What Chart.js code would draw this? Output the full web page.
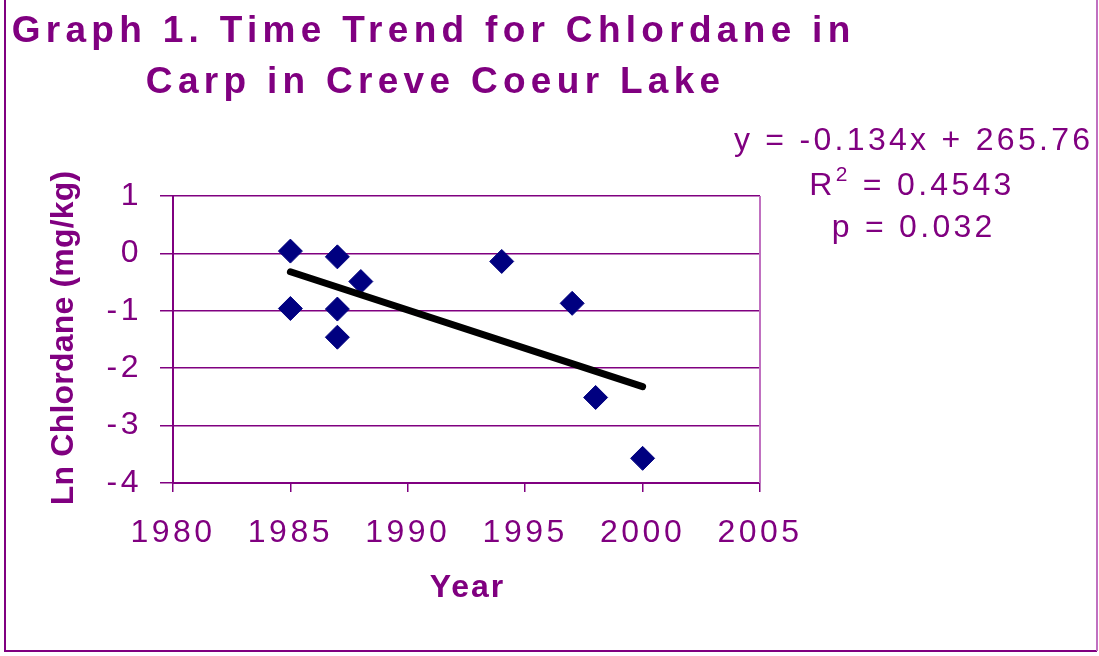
<!DOCTYPE html>
<html lang="en">
<head>
    <meta charset="UTF-8">
    <title>Graph 1. Time Trend for Chlordane in Carp in Creve Coeur Lake</title>
    <style>
        html, body {
            margin: 0;
            padding: 0;
            background: #fff;
        }
        #wrap {
            width: 1099px;
            height: 656px;
            position: relative;
        }
    </style>
    <script src="https://cdn.jsdelivr.net/npm/chart.js"></script>
</head>
<body>

<div id="wrap">
    <canvas id="chart" width="1099" height="656"></canvas>
</div>

<script>
// Data
const years = [1985, 1985, 1987, 1987, 1987, 1988, 1994, 1997, 1998, 2000];
const lnChlordane = [0.04, -0.96, -0.06, -0.97, -1.46, -0.49, -0.14, -0.87, -2.51, -3.57];

// Fitted trend line end points (y = -0.134x + 265.76)
const trendYears = [1985, 2000];
const trendValues = [-0.32, -2.32];

// Axis ranges
const xRange = [1980, 2005, 5];
const yRange = [-4, 1, 1];

const titleLines = ['Graph 1. Time Trend for Chlordane in', 'Carp in Creve Coeur Lake'];
const statsLines = ['y = -0.134x + 265.76', '0.4543', 'p = 0.032'];

const PURPLE = '#800080';
const LIGHT_PURPLE = '#c070c0';
const FONT = "'Liberation Sans', Arial, sans-serif";

function spacedText(ctx, text, x, y, font, spacing, align) {
    ctx.font = font;
    ctx.letterSpacing = spacing + 'px';
    const w = ctx.measureText(text).width - spacing;
    let left = x;
    if (align === 'center') left = x - w / 2;
    if (align === 'right') left = x - w;
    ctx.textAlign = 'left';
    ctx.fillText(text, left, y);
    return w;
}

// draws title, regression text, axis titles and the frame
const decorations = {
    id: 'decorations',
    beforeDraw(chart) {
        chart.ctx.letterSpacing = '3.5px';
    },
    afterDraw(chart) {
        const ctx = chart.ctx;
        const area = chart.chartArea;
        ctx.save();
        ctx.fillStyle = PURPLE;
        ctx.textBaseline = 'alphabetic';

        // title
        spacedText(ctx, titleLines[0], 431, 42, 'bold 37px ' + FONT, 5.3, 'center');
        spacedText(ctx, titleLines[1], 433, 93, 'bold 37px ' + FONT, 5.3, 'center');

        // regression stats
        spacedText(ctx, statsLines[0], 912, 150, '32px ' + FONT, 3.3, 'center');
        // R² line
        ctx.font = '32px ' + FONT;
        ctx.letterSpacing = '3.3px';
        const rW = ctx.measureText('R').width;
        ctx.font = '21px ' + FONT;
        const supW = ctx.measureText('2').width;
        ctx.font = '32px ' + FONT;
        const restText = ' = ' + statsLines[1];
        const restW = ctx.measureText(restText).width;
        let left = 912 - (rW + supW + restW) / 2;
        ctx.textAlign = 'left';
        ctx.fillText('R', left, 195);
        ctx.font = '21px ' + FONT;
        ctx.fillText('2', left + rW, 181);
        ctx.font = '32px ' + FONT;
        ctx.fillText(restText, left + rW + supW, 195);
        spacedText(ctx, statsLines[2], 912, 237, '32px ' + FONT, 3.3, 'center');

        // axis titles
        spacedText(ctx, 'Year', (area.left + area.right) / 2, 597, 'bold 32px ' + FONT, 2, 'center');
        ctx.save();
        ctx.translate(73, 338);
        ctx.rotate(-Math.PI / 2);
        spacedText(ctx, 'Ln Chlordane (mg/kg)', 0, 0, 'bold 32px ' + FONT, 0.2, 'center');
        ctx.restore();

        // right edge of plot area
        ctx.strokeStyle = LIGHT_PURPLE;
        ctx.lineWidth = 2;
        ctx.beginPath();
        ctx.moveTo(area.right, area.top);
        ctx.lineTo(area.right, area.bottom);
        ctx.stroke();

        // outer frame
        ctx.strokeStyle = PURPLE;
        ctx.lineWidth = 2;
        ctx.beginPath();
        ctx.moveTo(5, 0);
        ctx.lineTo(5, 651);
        ctx.lineTo(1097, 651);
        ctx.stroke();
        ctx.strokeStyle = LIGHT_PURPLE;
        ctx.beginPath();
        ctx.moveTo(1097, 0);
        ctx.lineTo(1097, 651);
        ctx.stroke();
        ctx.restore();
    }
};

const ctx = document.getElementById('chart').getContext('2d');

new Chart(ctx, {
    type: 'scatter',
    data: {
        datasets: [
            {
                label: 'Linear trend',
                type: 'line',
                data: trendYears.map((x, i) => ({ x: x, y: trendValues[i] })),
                borderColor: '#000000',
                borderWidth: 7,
                borderCapStyle: 'round',
                pointRadius: 0,
                fill: false
            },
            {
                label: 'Ln Chlordane',
                data: years.map((x, i) => ({ x: x, y: lnChlordane[i] })),
                pointStyle: 'rectRot',
                pointRadius: 12,
                pointBackgroundColor: '#000080',
                pointBorderColor: '#000080',
                pointBorderWidth: 1
            }
        ]
    },
    options: {
        responsive: false,
        animation: false,
        layout: {
            padding: { left: 0, top: 196, right: 339, bottom: 113 }
        },
        plugins: {
            legend: { display: false },
            tooltip: { enabled: false },
            title: { display: false }
        },
        scales: {
            x: {
                type: 'linear',
                min: xRange[0],
                max: xRange[1],
                afterFit(scale) { scale.height = 60; },
                ticks: {
                    stepSize: xRange[2],
                    color: PURPLE,
                    font: { family: FONT, size: 32 },
                    padding: 22,
                    maxRotation: 0,
                    callback: v => String(v)
                },
                grid: {
                    drawOnChartArea: false,
                    drawTicks: true,
                    tickLength: 9,
                    color: PURPLE,
                    lineWidth: 1.5
                },
                border: { display: true, color: PURPLE, width: 2 }
            },
            y: {
                type: 'linear',
                min: yRange[0],
                max: yRange[1],
                afterFit(scale) { scale.width = 173; },
                ticks: {
                    stepSize: yRange[2],
                    color: PURPLE,
                    font: { family: FONT, size: 32 },
                    padding: 18
                },
                grid: {
                    drawTicks: true,
                    tickLength: 13,
                    color: PURPLE,
                    lineWidth: 1.5
                },
                border: { display: true, color: PURPLE, width: 2 }
            }
        }
    },
    plugins: [decorations]
});
</script>

</body>
</html>
